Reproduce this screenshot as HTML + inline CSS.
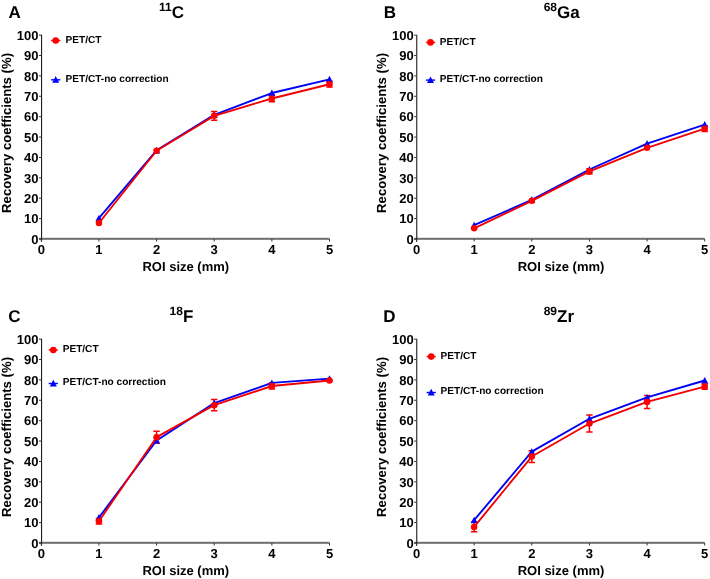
<!DOCTYPE html>
<html><head><meta charset="utf-8"><style>
html,body{margin:0;padding:0;background:#fff;}
svg{display:block;will-change:transform;}
text{text-rendering:geometricPrecision;}
</style></head><body>
<svg width="710" height="579" viewBox="0 0 710 579">
<rect width="710" height="579" fill="#fff"/>
<rect x="39.00" y="237.80" width="290.50" height="2" fill="#6e6e6e"/>
<rect x="41.00" y="34.70" width="1.1" height="206.90" fill="#1e1e1e"/>
<rect x="39.00" y="238.50" width="2.2" height="1" fill="#333"/>
<text x="38.50" y="243.70" text-anchor="end" font-size="13" font-family="Liberation Sans" font-weight="bold">0</text>
<rect x="39.00" y="218.11" width="2.2" height="1" fill="#333"/>
<text x="38.50" y="223.31" text-anchor="end" font-size="13" font-family="Liberation Sans" font-weight="bold">10</text>
<rect x="39.00" y="197.72" width="2.2" height="1" fill="#333"/>
<text x="38.50" y="202.92" text-anchor="end" font-size="13" font-family="Liberation Sans" font-weight="bold">20</text>
<rect x="39.00" y="177.33" width="2.2" height="1" fill="#333"/>
<text x="38.50" y="182.53" text-anchor="end" font-size="13" font-family="Liberation Sans" font-weight="bold">30</text>
<rect x="39.00" y="156.94" width="2.2" height="1" fill="#333"/>
<text x="38.50" y="162.14" text-anchor="end" font-size="13" font-family="Liberation Sans" font-weight="bold">40</text>
<rect x="39.00" y="136.55" width="2.2" height="1" fill="#333"/>
<text x="38.50" y="141.75" text-anchor="end" font-size="13" font-family="Liberation Sans" font-weight="bold">50</text>
<rect x="39.00" y="116.16" width="2.2" height="1" fill="#333"/>
<text x="38.50" y="121.36" text-anchor="end" font-size="13" font-family="Liberation Sans" font-weight="bold">60</text>
<rect x="39.00" y="95.77" width="2.2" height="1" fill="#333"/>
<text x="38.50" y="100.97" text-anchor="end" font-size="13" font-family="Liberation Sans" font-weight="bold">70</text>
<rect x="39.00" y="75.38" width="2.2" height="1" fill="#333"/>
<text x="38.50" y="80.58" text-anchor="end" font-size="13" font-family="Liberation Sans" font-weight="bold">80</text>
<rect x="39.00" y="54.99" width="2.2" height="1" fill="#333"/>
<text x="38.50" y="60.19" text-anchor="end" font-size="13" font-family="Liberation Sans" font-weight="bold">90</text>
<rect x="39.00" y="34.60" width="2.2" height="1" fill="#333"/>
<text x="38.50" y="39.80" text-anchor="end" font-size="13" font-family="Liberation Sans" font-weight="bold">100</text>
<rect x="40.80" y="239.00" width="1" height="2.5" fill="#333"/>
<text x="41.30" y="254.00" text-anchor="middle" font-size="13" font-family="Liberation Sans" font-weight="bold">0</text>
<rect x="98.44" y="239.00" width="1" height="2.5" fill="#333"/>
<text x="98.94" y="254.00" text-anchor="middle" font-size="13" font-family="Liberation Sans" font-weight="bold">1</text>
<rect x="156.08" y="239.00" width="1" height="2.5" fill="#333"/>
<text x="156.58" y="254.00" text-anchor="middle" font-size="13" font-family="Liberation Sans" font-weight="bold">2</text>
<rect x="213.72" y="239.00" width="1" height="2.5" fill="#333"/>
<text x="214.22" y="254.00" text-anchor="middle" font-size="13" font-family="Liberation Sans" font-weight="bold">3</text>
<rect x="271.36" y="239.00" width="1" height="2.5" fill="#333"/>
<text x="271.86" y="254.00" text-anchor="middle" font-size="13" font-family="Liberation Sans" font-weight="bold">4</text>
<rect x="329.00" y="239.00" width="1" height="2.5" fill="#333"/>
<text x="329.50" y="254.00" text-anchor="middle" font-size="13" font-family="Liberation Sans" font-weight="bold">5</text>
<text x="185.80" y="271.20" text-anchor="middle" font-size="13" font-family="Liberation Sans" font-weight="bold">ROI size (mm)</text>
<text transform="translate(10.90,132.95) rotate(-90)" text-anchor="middle" font-size="13.15" font-family="Liberation Sans" font-weight="bold">Recovery coefficients (%)</text>
<text x="8.40" y="18.10" font-size="17" font-family="Liberation Sans" font-weight="bold">A</text>
<text x="159.00" y="18.40" font-size="17" font-family="Liberation Sans" font-weight="bold"><tspan font-size="12" dy="-7">11</tspan><tspan dy="7">C</tspan></text>
<rect x="51.10" y="39.80" width="9.2" height="1.4" fill="#f00"/>
<circle cx="55.70" cy="40.50" r="3.3" fill="#f00"/>
<text x="65.50" y="42.60" font-size="10.1" font-family="Liberation Sans" font-weight="bold">PET/CT</text>
<rect x="51.10" y="79.10" width="9.2" height="1.4" fill="#00f"/>
<path d="M55.70,76.10 L59.20,82.70 L52.20,82.70 Z" fill="#00f"/>
<text x="65.50" y="82.30" font-size="10.1" font-family="Liberation Sans" font-weight="bold">PET/CT-no correction</text>
<path d="M214.22,111.56 V120.13 M211.02,111.56 H217.42 M211.02,120.13 H217.42" stroke="#f00" stroke-width="1.5" fill="none"/>
<path d="M271.86,95.25 V101.78 M268.66,95.25 H275.06 M268.66,101.78 H275.06" stroke="#f00" stroke-width="1.5" fill="none"/>
<path d="M329.50,81.39 V87.09 M326.30,81.39 H332.70 M326.30,87.09 H332.70" stroke="#f00" stroke-width="1.5" fill="none"/>
<polyline fill="none" stroke="#0000f0" stroke-width="1.85" stroke-linejoin="round" points="98.94,218.20 156.58,150.30 214.22,114.82 271.86,93.01 329.50,79.35"/>
<path d="M98.94,214.70 L102.44,221.30 L95.44,221.30 Z" fill="#00f"/>
<path d="M156.58,146.80 L160.08,153.40 L153.08,153.40 Z" fill="#00f"/>
<path d="M214.22,111.32 L217.72,117.92 L210.72,117.92 Z" fill="#00f"/>
<path d="M271.86,89.51 L275.36,96.11 L268.36,96.11 Z" fill="#00f"/>
<path d="M329.50,75.85 L333.00,82.45 L326.00,82.45 Z" fill="#00f"/>
<polyline fill="none" stroke="#f00000" stroke-width="1.85" stroke-linejoin="round" points="98.94,222.99 156.58,150.71 214.22,115.84 271.86,98.51 329.50,84.24"/>
<circle cx="98.94" cy="222.99" r="3.25" fill="#f00"/>
<circle cx="156.58" cy="150.71" r="3.25" fill="#f00"/>
<circle cx="214.22" cy="115.84" r="3.25" fill="#f00"/>
<circle cx="271.86" cy="98.51" r="3.25" fill="#f00"/>
<circle cx="329.50" cy="84.24" r="3.25" fill="#f00"/>
<rect x="414.20" y="237.80" width="290.50" height="2" fill="#6e6e6e"/>
<rect x="416.20" y="34.70" width="1.1" height="206.90" fill="#1e1e1e"/>
<rect x="414.20" y="238.50" width="2.2" height="1" fill="#333"/>
<text x="413.70" y="243.70" text-anchor="end" font-size="13" font-family="Liberation Sans" font-weight="bold">0</text>
<rect x="414.20" y="218.11" width="2.2" height="1" fill="#333"/>
<text x="413.70" y="223.31" text-anchor="end" font-size="13" font-family="Liberation Sans" font-weight="bold">10</text>
<rect x="414.20" y="197.72" width="2.2" height="1" fill="#333"/>
<text x="413.70" y="202.92" text-anchor="end" font-size="13" font-family="Liberation Sans" font-weight="bold">20</text>
<rect x="414.20" y="177.33" width="2.2" height="1" fill="#333"/>
<text x="413.70" y="182.53" text-anchor="end" font-size="13" font-family="Liberation Sans" font-weight="bold">30</text>
<rect x="414.20" y="156.94" width="2.2" height="1" fill="#333"/>
<text x="413.70" y="162.14" text-anchor="end" font-size="13" font-family="Liberation Sans" font-weight="bold">40</text>
<rect x="414.20" y="136.55" width="2.2" height="1" fill="#333"/>
<text x="413.70" y="141.75" text-anchor="end" font-size="13" font-family="Liberation Sans" font-weight="bold">50</text>
<rect x="414.20" y="116.16" width="2.2" height="1" fill="#333"/>
<text x="413.70" y="121.36" text-anchor="end" font-size="13" font-family="Liberation Sans" font-weight="bold">60</text>
<rect x="414.20" y="95.77" width="2.2" height="1" fill="#333"/>
<text x="413.70" y="100.97" text-anchor="end" font-size="13" font-family="Liberation Sans" font-weight="bold">70</text>
<rect x="414.20" y="75.38" width="2.2" height="1" fill="#333"/>
<text x="413.70" y="80.58" text-anchor="end" font-size="13" font-family="Liberation Sans" font-weight="bold">80</text>
<rect x="414.20" y="54.99" width="2.2" height="1" fill="#333"/>
<text x="413.70" y="60.19" text-anchor="end" font-size="13" font-family="Liberation Sans" font-weight="bold">90</text>
<rect x="414.20" y="34.60" width="2.2" height="1" fill="#333"/>
<text x="413.70" y="39.80" text-anchor="end" font-size="13" font-family="Liberation Sans" font-weight="bold">100</text>
<rect x="416.00" y="239.00" width="1" height="2.5" fill="#333"/>
<text x="416.50" y="254.00" text-anchor="middle" font-size="13" font-family="Liberation Sans" font-weight="bold">0</text>
<rect x="473.64" y="239.00" width="1" height="2.5" fill="#333"/>
<text x="474.14" y="254.00" text-anchor="middle" font-size="13" font-family="Liberation Sans" font-weight="bold">1</text>
<rect x="531.28" y="239.00" width="1" height="2.5" fill="#333"/>
<text x="531.78" y="254.00" text-anchor="middle" font-size="13" font-family="Liberation Sans" font-weight="bold">2</text>
<rect x="588.92" y="239.00" width="1" height="2.5" fill="#333"/>
<text x="589.42" y="254.00" text-anchor="middle" font-size="13" font-family="Liberation Sans" font-weight="bold">3</text>
<rect x="646.56" y="239.00" width="1" height="2.5" fill="#333"/>
<text x="647.06" y="254.00" text-anchor="middle" font-size="13" font-family="Liberation Sans" font-weight="bold">4</text>
<rect x="704.20" y="239.00" width="1" height="2.5" fill="#333"/>
<text x="704.70" y="254.00" text-anchor="middle" font-size="13" font-family="Liberation Sans" font-weight="bold">5</text>
<text x="561.00" y="271.20" text-anchor="middle" font-size="13" font-family="Liberation Sans" font-weight="bold">ROI size (mm)</text>
<text transform="translate(386.10,132.95) rotate(-90)" text-anchor="middle" font-size="13.15" font-family="Liberation Sans" font-weight="bold">Recovery coefficients (%)</text>
<text x="383.80" y="18.20" font-size="17" font-family="Liberation Sans" font-weight="bold">B</text>
<text x="543.70" y="18.20" font-size="17" font-family="Liberation Sans" font-weight="bold"><tspan font-size="12" dy="-7">68</tspan><tspan dy="7">Ga</tspan></text>
<rect x="425.90" y="41.70" width="9.2" height="1.4" fill="#f00"/>
<circle cx="430.50" cy="42.40" r="3.3" fill="#f00"/>
<text x="439.70" y="44.90" font-size="10.1" font-family="Liberation Sans" font-weight="bold">PET/CT</text>
<rect x="425.90" y="79.40" width="9.2" height="1.4" fill="#00f"/>
<path d="M430.50,76.40 L434.00,83.00 L427.00,83.00 Z" fill="#00f"/>
<text x="439.70" y="81.70" font-size="10.1" font-family="Liberation Sans" font-weight="bold">PET/CT-no correction</text>
<path d="M589.42,168.65 V173.96 M586.22,168.65 H592.62 M586.22,173.96 H592.62" stroke="#f00" stroke-width="1.5" fill="none"/>
<path d="M704.70,125.84 V131.54 M701.50,125.84 H707.90 M701.50,131.54 H707.90" stroke="#f00" stroke-width="1.5" fill="none"/>
<polyline fill="none" stroke="#0000f0" stroke-width="1.85" stroke-linejoin="round" points="474.14,225.13 531.78,199.85 589.42,169.47 647.06,143.57 704.70,124.61"/>
<path d="M474.14,221.63 L477.64,228.23 L470.64,228.23 Z" fill="#00f"/>
<path d="M531.78,196.35 L535.28,202.95 L528.28,202.95 Z" fill="#00f"/>
<path d="M589.42,165.97 L592.92,172.57 L585.92,172.57 Z" fill="#00f"/>
<path d="M647.06,140.07 L650.56,146.67 L643.56,146.67 Z" fill="#00f"/>
<path d="M704.70,121.11 L708.20,127.71 L701.20,127.71 Z" fill="#00f"/>
<polyline fill="none" stroke="#f00000" stroke-width="1.85" stroke-linejoin="round" points="474.14,228.30 531.78,200.87 589.42,171.31 647.06,147.86 704.70,128.69"/>
<circle cx="474.14" cy="228.30" r="3.25" fill="#f00"/>
<circle cx="531.78" cy="200.87" r="3.25" fill="#f00"/>
<circle cx="589.42" cy="171.31" r="3.25" fill="#f00"/>
<circle cx="647.06" cy="147.86" r="3.25" fill="#f00"/>
<circle cx="704.70" cy="128.69" r="3.25" fill="#f00"/>
<rect x="39.00" y="541.80" width="290.50" height="2" fill="#6e6e6e"/>
<rect x="41.00" y="338.70" width="1.1" height="206.90" fill="#1e1e1e"/>
<rect x="39.00" y="542.50" width="2.2" height="1" fill="#333"/>
<text x="38.50" y="547.70" text-anchor="end" font-size="13" font-family="Liberation Sans" font-weight="bold">0</text>
<rect x="39.00" y="522.11" width="2.2" height="1" fill="#333"/>
<text x="38.50" y="527.31" text-anchor="end" font-size="13" font-family="Liberation Sans" font-weight="bold">10</text>
<rect x="39.00" y="501.72" width="2.2" height="1" fill="#333"/>
<text x="38.50" y="506.92" text-anchor="end" font-size="13" font-family="Liberation Sans" font-weight="bold">20</text>
<rect x="39.00" y="481.33" width="2.2" height="1" fill="#333"/>
<text x="38.50" y="486.53" text-anchor="end" font-size="13" font-family="Liberation Sans" font-weight="bold">30</text>
<rect x="39.00" y="460.94" width="2.2" height="1" fill="#333"/>
<text x="38.50" y="466.14" text-anchor="end" font-size="13" font-family="Liberation Sans" font-weight="bold">40</text>
<rect x="39.00" y="440.55" width="2.2" height="1" fill="#333"/>
<text x="38.50" y="445.75" text-anchor="end" font-size="13" font-family="Liberation Sans" font-weight="bold">50</text>
<rect x="39.00" y="420.16" width="2.2" height="1" fill="#333"/>
<text x="38.50" y="425.36" text-anchor="end" font-size="13" font-family="Liberation Sans" font-weight="bold">60</text>
<rect x="39.00" y="399.77" width="2.2" height="1" fill="#333"/>
<text x="38.50" y="404.97" text-anchor="end" font-size="13" font-family="Liberation Sans" font-weight="bold">70</text>
<rect x="39.00" y="379.38" width="2.2" height="1" fill="#333"/>
<text x="38.50" y="384.58" text-anchor="end" font-size="13" font-family="Liberation Sans" font-weight="bold">80</text>
<rect x="39.00" y="358.99" width="2.2" height="1" fill="#333"/>
<text x="38.50" y="364.19" text-anchor="end" font-size="13" font-family="Liberation Sans" font-weight="bold">90</text>
<rect x="39.00" y="338.60" width="2.2" height="1" fill="#333"/>
<text x="38.50" y="343.80" text-anchor="end" font-size="13" font-family="Liberation Sans" font-weight="bold">100</text>
<rect x="40.80" y="543.00" width="1" height="2.5" fill="#333"/>
<text x="41.30" y="558.00" text-anchor="middle" font-size="13" font-family="Liberation Sans" font-weight="bold">0</text>
<rect x="98.44" y="543.00" width="1" height="2.5" fill="#333"/>
<text x="98.94" y="558.00" text-anchor="middle" font-size="13" font-family="Liberation Sans" font-weight="bold">1</text>
<rect x="156.08" y="543.00" width="1" height="2.5" fill="#333"/>
<text x="156.58" y="558.00" text-anchor="middle" font-size="13" font-family="Liberation Sans" font-weight="bold">2</text>
<rect x="213.72" y="543.00" width="1" height="2.5" fill="#333"/>
<text x="214.22" y="558.00" text-anchor="middle" font-size="13" font-family="Liberation Sans" font-weight="bold">3</text>
<rect x="271.36" y="543.00" width="1" height="2.5" fill="#333"/>
<text x="271.86" y="558.00" text-anchor="middle" font-size="13" font-family="Liberation Sans" font-weight="bold">4</text>
<rect x="329.00" y="543.00" width="1" height="2.5" fill="#333"/>
<text x="329.50" y="558.00" text-anchor="middle" font-size="13" font-family="Liberation Sans" font-weight="bold">5</text>
<text x="185.80" y="575.20" text-anchor="middle" font-size="13" font-family="Liberation Sans" font-weight="bold">ROI size (mm)</text>
<text transform="translate(10.90,436.95) rotate(-90)" text-anchor="middle" font-size="13.15" font-family="Liberation Sans" font-weight="bold">Recovery coefficients (%)</text>
<text x="8.20" y="322.30" font-size="17" font-family="Liberation Sans" font-weight="bold">C</text>
<text x="169.60" y="322.00" font-size="17" font-family="Liberation Sans" font-weight="bold"><tspan font-size="12" dy="-7">18</tspan><tspan dy="7">F</tspan></text>
<rect x="48.70" y="349.30" width="9.2" height="1.4" fill="#f00"/>
<circle cx="53.30" cy="350.00" r="3.3" fill="#f00"/>
<text x="62.70" y="352.20" font-size="10.1" font-family="Liberation Sans" font-weight="bold">PET/CT</text>
<rect x="48.70" y="382.80" width="9.2" height="1.4" fill="#00f"/>
<path d="M53.30,379.80 L56.80,386.40 L49.80,386.40 Z" fill="#00f"/>
<text x="62.70" y="384.60" font-size="10.1" font-family="Liberation Sans" font-weight="bold">PET/CT-no correction</text>
<path d="M98.94,518.43 V523.94 M95.74,518.43 H102.14 M95.74,523.94 H102.14" stroke="#f00" stroke-width="1.5" fill="none"/>
<path d="M156.58,431.16 V443.19 M153.38,431.16 H159.78 M153.38,443.19 H159.78" stroke="#f00" stroke-width="1.5" fill="none"/>
<path d="M214.22,399.56 V410.77 M211.02,399.56 H217.42 M211.02,410.77 H217.42" stroke="#f00" stroke-width="1.5" fill="none"/>
<path d="M271.86,382.94 V389.06 M268.66,382.94 H275.06 M268.66,389.06 H275.06" stroke="#f00" stroke-width="1.5" fill="none"/>
<polyline fill="none" stroke="#0000f0" stroke-width="1.85" stroke-linejoin="round" points="98.94,517.51 156.58,440.44 214.22,403.12 271.86,382.94 329.50,378.66"/>
<path d="M98.94,514.01 L102.44,520.61 L95.44,520.61 Z" fill="#00f"/>
<path d="M156.58,436.94 L160.08,443.54 L153.08,443.54 Z" fill="#00f"/>
<path d="M214.22,399.62 L217.72,406.22 L210.72,406.22 Z" fill="#00f"/>
<path d="M271.86,379.44 L275.36,386.04 L268.36,386.04 Z" fill="#00f"/>
<path d="M329.50,375.16 L333.00,381.76 L326.00,381.76 Z" fill="#00f"/>
<polyline fill="none" stroke="#f00000" stroke-width="1.85" stroke-linejoin="round" points="98.94,521.18 156.58,437.18 214.22,405.16 271.86,386.00 329.50,380.49"/>
<circle cx="98.94" cy="521.18" r="3.25" fill="#f00"/>
<circle cx="156.58" cy="437.18" r="3.25" fill="#f00"/>
<circle cx="214.22" cy="405.16" r="3.25" fill="#f00"/>
<circle cx="271.86" cy="386.00" r="3.25" fill="#f00"/>
<circle cx="329.50" cy="380.49" r="3.25" fill="#f00"/>
<rect x="414.20" y="541.80" width="290.50" height="2" fill="#6e6e6e"/>
<rect x="416.20" y="338.70" width="1.1" height="206.90" fill="#1e1e1e"/>
<rect x="414.20" y="542.50" width="2.2" height="1" fill="#333"/>
<text x="413.70" y="547.70" text-anchor="end" font-size="13" font-family="Liberation Sans" font-weight="bold">0</text>
<rect x="414.20" y="522.11" width="2.2" height="1" fill="#333"/>
<text x="413.70" y="527.31" text-anchor="end" font-size="13" font-family="Liberation Sans" font-weight="bold">10</text>
<rect x="414.20" y="501.72" width="2.2" height="1" fill="#333"/>
<text x="413.70" y="506.92" text-anchor="end" font-size="13" font-family="Liberation Sans" font-weight="bold">20</text>
<rect x="414.20" y="481.33" width="2.2" height="1" fill="#333"/>
<text x="413.70" y="486.53" text-anchor="end" font-size="13" font-family="Liberation Sans" font-weight="bold">30</text>
<rect x="414.20" y="460.94" width="2.2" height="1" fill="#333"/>
<text x="413.70" y="466.14" text-anchor="end" font-size="13" font-family="Liberation Sans" font-weight="bold">40</text>
<rect x="414.20" y="440.55" width="2.2" height="1" fill="#333"/>
<text x="413.70" y="445.75" text-anchor="end" font-size="13" font-family="Liberation Sans" font-weight="bold">50</text>
<rect x="414.20" y="420.16" width="2.2" height="1" fill="#333"/>
<text x="413.70" y="425.36" text-anchor="end" font-size="13" font-family="Liberation Sans" font-weight="bold">60</text>
<rect x="414.20" y="399.77" width="2.2" height="1" fill="#333"/>
<text x="413.70" y="404.97" text-anchor="end" font-size="13" font-family="Liberation Sans" font-weight="bold">70</text>
<rect x="414.20" y="379.38" width="2.2" height="1" fill="#333"/>
<text x="413.70" y="384.58" text-anchor="end" font-size="13" font-family="Liberation Sans" font-weight="bold">80</text>
<rect x="414.20" y="358.99" width="2.2" height="1" fill="#333"/>
<text x="413.70" y="364.19" text-anchor="end" font-size="13" font-family="Liberation Sans" font-weight="bold">90</text>
<rect x="414.20" y="338.60" width="2.2" height="1" fill="#333"/>
<text x="413.70" y="343.80" text-anchor="end" font-size="13" font-family="Liberation Sans" font-weight="bold">100</text>
<rect x="416.00" y="543.00" width="1" height="2.5" fill="#333"/>
<text x="416.50" y="558.00" text-anchor="middle" font-size="13" font-family="Liberation Sans" font-weight="bold">0</text>
<rect x="473.64" y="543.00" width="1" height="2.5" fill="#333"/>
<text x="474.14" y="558.00" text-anchor="middle" font-size="13" font-family="Liberation Sans" font-weight="bold">1</text>
<rect x="531.28" y="543.00" width="1" height="2.5" fill="#333"/>
<text x="531.78" y="558.00" text-anchor="middle" font-size="13" font-family="Liberation Sans" font-weight="bold">2</text>
<rect x="588.92" y="543.00" width="1" height="2.5" fill="#333"/>
<text x="589.42" y="558.00" text-anchor="middle" font-size="13" font-family="Liberation Sans" font-weight="bold">3</text>
<rect x="646.56" y="543.00" width="1" height="2.5" fill="#333"/>
<text x="647.06" y="558.00" text-anchor="middle" font-size="13" font-family="Liberation Sans" font-weight="bold">4</text>
<rect x="704.20" y="543.00" width="1" height="2.5" fill="#333"/>
<text x="704.70" y="558.00" text-anchor="middle" font-size="13" font-family="Liberation Sans" font-weight="bold">5</text>
<text x="561.00" y="575.20" text-anchor="middle" font-size="13" font-family="Liberation Sans" font-weight="bold">ROI size (mm)</text>
<text transform="translate(386.10,436.95) rotate(-90)" text-anchor="middle" font-size="13.15" font-family="Liberation Sans" font-weight="bold">Recovery coefficients (%)</text>
<text x="383.30" y="322.00" font-size="17" font-family="Liberation Sans" font-weight="bold">D</text>
<text x="543.70" y="322.00" font-size="17" font-family="Liberation Sans" font-weight="bold"><tspan font-size="12" dy="-7">89</tspan><tspan dy="7">Zr</tspan></text>
<rect x="426.60" y="355.90" width="9.2" height="1.4" fill="#f00"/>
<circle cx="431.20" cy="356.60" r="3.3" fill="#f00"/>
<text x="440.50" y="358.70" font-size="10.1" font-family="Liberation Sans" font-weight="bold">PET/CT</text>
<rect x="426.60" y="391.80" width="9.2" height="1.4" fill="#00f"/>
<path d="M431.20,388.80 L434.70,395.40 L427.70,395.40 Z" fill="#00f"/>
<text x="440.50" y="394.10" font-size="10.1" font-family="Liberation Sans" font-weight="bold">PET/CT-no correction</text>
<path d="M474.14,521.94 V531.85 M470.94,521.94 H477.34 M470.94,531.85 H477.34" stroke="#f00" stroke-width="1.5" fill="none"/>
<path d="M531.78,450.63 V462.46 M528.58,450.63 H534.98 M528.58,462.46 H534.98" stroke="#f00" stroke-width="1.5" fill="none"/>
<path d="M589.42,414.95 V432.08 M586.22,414.95 H592.62 M586.22,432.08 H592.62" stroke="#f00" stroke-width="1.5" fill="none"/>
<path d="M647.06,395.38 V408.43 M643.86,395.38 H650.26 M643.86,408.43 H650.26" stroke="#f00" stroke-width="1.5" fill="none"/>
<path d="M704.70,383.96 V389.26 M701.50,383.96 H707.90 M701.50,389.26 H707.90" stroke="#f00" stroke-width="1.5" fill="none"/>
<polyline fill="none" stroke="#0000f0" stroke-width="1.85" stroke-linejoin="round" points="474.14,520.16 531.78,451.65 589.42,418.82 647.06,397.42 704.70,380.49"/>
<path d="M474.14,516.66 L477.64,523.26 L470.64,523.26 Z" fill="#00f"/>
<path d="M531.78,448.15 L535.28,454.75 L528.28,454.75 Z" fill="#00f"/>
<path d="M589.42,415.32 L592.92,421.92 L585.92,421.92 Z" fill="#00f"/>
<path d="M647.06,393.92 L650.56,400.52 L643.56,400.52 Z" fill="#00f"/>
<path d="M704.70,376.99 L708.20,383.59 L701.20,383.59 Z" fill="#00f"/>
<polyline fill="none" stroke="#f00000" stroke-width="1.85" stroke-linejoin="round" points="474.14,526.89 531.78,456.55 589.42,423.51 647.06,401.90 704.70,386.61"/>
<circle cx="474.14" cy="526.89" r="3.25" fill="#f00"/>
<circle cx="531.78" cy="456.55" r="3.25" fill="#f00"/>
<circle cx="589.42" cy="423.51" r="3.25" fill="#f00"/>
<circle cx="647.06" cy="401.90" r="3.25" fill="#f00"/>
<circle cx="704.70" cy="386.61" r="3.25" fill="#f00"/>
</svg>
</body></html>
